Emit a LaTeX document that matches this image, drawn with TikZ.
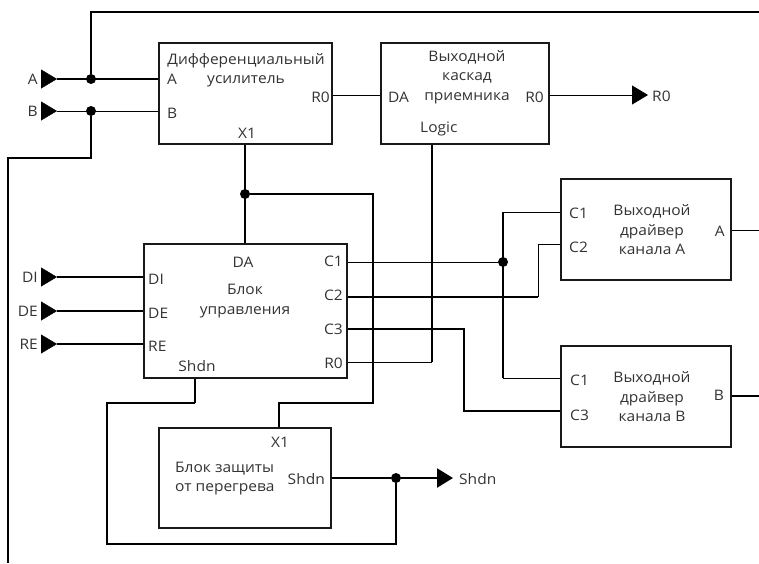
\documentclass[tikz,border=0pt]{standalone}
\usepackage{fontspec}
\setmainfont{Open Sans}[FakeStretch=1.07]
\usetikzlibrary{positioning, arrows.meta}

\begin{document}
\begin{tikzpicture}[x=1pt, y=-1pt, font=\fontsize{14.5}{19.5}\selectfont,
		block/.style={draw=black!90, line width=1.8pt, rectangle, inner sep=0pt},
		lbl/.style={inner sep=0pt, text=black!80},
		thin wire/.style={line width=1pt},
		mid wire/.style={line width=1.5pt},
		bold wire/.style={line width=2.3pt},
		pin/.style={-{Triangle[length=16pt, width=19pt]}},
		dot/.style={circle, fill, inner sep=0pt, minimum size=10pt}]
	\useasboundingbox (0,0) rectangle (759,563);

	% blocks
	\node[block, minimum width=173pt, minimum height=101pt] (dif) at (245.5,93.5) {};
	\node[block, minimum width=168pt, minimum height=101pt] (rcv) at (465,93.5) {};
	\node[block, minimum width=203pt, minimum height=134pt] (ctl) at (245.5,311) {};
	\node[block, minimum width=170pt, minimum height=101pt] (drvA) at (646,229.5) {};
	\node[block, minimum width=170pt, minimum height=101pt] (drvB) at (646,396.5) {};
	\node[block, minimum width=172pt, minimum height=100pt] (thm) at (245,478) {};

	% titles
	\node[lbl, align=center] at (246,70) {Дифференциальный\\усилитель};
	\node[lbl, align=center] at (467,77) {Выходной\\каскад\\приемника};
	\node[lbl, align=center] at (245,301) {Блок\\управления};
	\node[lbl, align=center] at (652,230) {Выходной\\драйвер\\канала A};
	\node[lbl, align=center] at (652,397) {Выходной\\драйвер\\канала B};
	\node[lbl, align=left, anchor=west] at (175,478.5) {Блок защиты\\от перегрева};

	% port labels
	\node[lbl, anchor=west] at (167,79) {A};
	\node[lbl, anchor=west] at (167,113) {B};
	\node[lbl, anchor=east] at (330,97) {R0};
	\node[lbl] at (247,133) {X1};
	\node[lbl, anchor=west] at (388,97) {DA};
	\node[lbl, anchor=east] at (544,97) {R0};
	\node[lbl, anchor=west] at (420,129) {Logic};
	\node[lbl] at (243,262) {DA};
	\node[lbl] at (197,366) {Shdn};
	\node[lbl, anchor=east] at (343,261) {C1};
	\node[lbl, anchor=east] at (343,295) {C2};
	\node[lbl, anchor=east] at (343,329) {C3};
	\node[lbl, anchor=east] at (343,363) {R0};
	\node[lbl, anchor=west] at (569,213) {C1};
	\node[lbl, anchor=west] at (569,247) {C2};
	\node[lbl, anchor=east] at (725,231) {A};
	\node[lbl, anchor=west] at (570,380) {C1};
	\node[lbl, anchor=west] at (570,415) {C3};
	\node[lbl, anchor=east] at (724,395) {B};
	\node[lbl] at (280,442) {X1};
	\node[lbl, anchor=east] at (325,479) {Shdn};

	% inputs A, B
	\node[lbl, anchor=east] (inA) at (38,79) {A};
	\node[lbl, anchor=east] (inB) at (38,111) {B};
	\coordinate (tipA) at (57,79);
	\coordinate (tipB) at (57,111);
	\node[dot] (jA) at (91,79) {};
	\node[dot] (jB) at (91,111) {};
	\draw[pin, shorten <=3pt] (inA.east) -- (tipA);
	\draw[pin, shorten <=3pt] (inB.east) -- (tipB);
	\draw[bold wire] (tipA) -- (dif.west |- tipA);
	\draw[thin wire] (tipB) -- (dif.west |- tipB);
	\coordinate (topR) at (759,12);
	\draw[mid wire] (jA) -- (jA |- topR) -- (topR);
	\coordinate (lft) at (8,563);
	\draw[bold wire] (jB) -- (91,158) -- (lft |- 0,158) -- (lft);

	% inputs DI, DE, RE
	\foreach \nm/\y in {DI/277, DE/311, RE/344} {
		\node[lbl, anchor=east] (in\nm) at (38,\y) {\nm};
		\coordinate (tip\nm) at (57,\y);
		\draw[pin, shorten <=3pt] (in\nm.east) -- (tip\nm);
		\draw[bold wire] (tip\nm) -- (ctl.west |- tip\nm);
		\node[lbl, anchor=west] at (148,\y+2) {\nm};
	}

	% receiver chain
	\coordinate (tipR) at (648,95);
	\draw[thin wire] (dif.east |- tipR) -- (rcv.west |- tipR);
	\draw[thin wire, pin] (rcv.east |- tipR) -- (tipR);
	\node[lbl, anchor=west] (outR) at (652,96) {R0};

	% X1 bus
	\node[dot] (jX) at (245,194) {};
	\draw[bold wire] (dif.south -| jX) -- (ctl.north -| jX);
	\draw[bold wire] (jX) -- (373,194) -- (373,403) -- (279,403) -- (thm.north -| 279,0);

	% Logic / R0
	\draw[bold wire] (rcv.south -| 432,0) -- (432,362);
	\draw[thin wire] (432,362) -- (ctl.east |- 0,362);

	% C1
	\node[dot] (jC) at (503,262) {};
	\draw[thin wire] (ctl.east |- jC) -- (jC);
	\draw[thin wire] (drvA.west |- 0,212) -- (jC |- 0,212);
	\draw[bold wire] (jC |- 0,212) -- (jC |- 0,378);
	\draw[thin wire] (jC |- 0,378) -- (drvB.west |- 0,378);

	% C2, C3
	\draw[bold wire] (ctl.east |- 0,297) -- (538,297);
	\draw[thin wire] (538,297) -- (538,244) -- (drvA.west |- 0,244);
	\draw[mid wire] (ctl.east |- 0,329) -- (464,329) -- (464,411) -- (drvB.west |- 0,411);

	% driver outputs
	\draw[thin wire] (drvA.east |- 0,230) -- (759,230);
	\draw[bold wire] (drvB.east |- 0,396) -- (759,396);

	% Shdn
	\node[dot] (jS) at (396,478) {};
	\coordinate (tipS) at (453,478);
	\draw[mid wire] (ctl.south -| 195,0) -- (195,403);
	\draw[bold wire] (195,403) -- (107,403) -- (107,544) -- (jS |- 0,544) -- (jS);
	\draw[bold wire] (thm.east |- jS) -- (jS);
	\draw[bold wire, pin] (jS) -- (tipS);
	\node[lbl, anchor=west] (outS) at (459,479) {Shdn};
\end{tikzpicture}
\end{document}
